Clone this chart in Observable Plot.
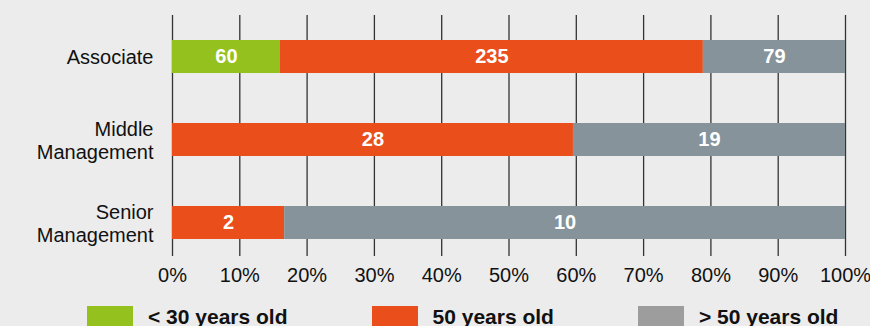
<!DOCTYPE html>
<html>
<head>
<meta charset="utf-8">
<script src="https://cdn.jsdelivr.net/npm/d3@7"></script>
<script src="https://cdn.jsdelivr.net/npm/@observablehq/plot@0.6"></script>
<style>
  html, body { margin: 0; padding: 0; background: #ececec; }
  body { width: 870px; height: 326px; overflow: hidden; font-family: "Liberation Sans", Arial, Helvetica, sans-serif; }
  #chart svg { display: block; background: #ececec; }
  .legend { display: flex; align-items: flex-start; gap: 84px; padding-left: 87px; margin-top: 10px; }
  .legend .item { display: flex; align-items: flex-start; gap: 15px; }
  .legend .sw { width: 46px; height: 22px; }
  .legend .lab { font-weight: bold; font-size: 21px; line-height: 22px; color: #111; }
</style>
</head>
<body>
<div id="chart"></div>
<div class="legend" id="legend"></div>
<script>
// Staff levels and headcount per age group
const levels = ["Associate", "Middle Management", "Senior Management"];
const levelLabels = ["Associate", "Middle\nManagement", "Senior\nManagement"];
const ageGroups = ["< 30 years old", "50 years old", "> 50 years old"];
const under30 = [60, 0, 0];
const age50 = [235, 28, 2];
const over50 = [79, 19, 10];
const xTicks = [0, 0.1, 0.2, 0.3, 0.4, 0.5, 0.6, 0.7, 0.8, 0.9, 1];

const barColors = ["#95c11f", "#e94e1b", "#86939a"];
const legendColors = ["#95c11f", "#e94e1b", "#9d9d9d"];

// long table: one row per (level, age group), skipping empty groups
const series = [under30, age50, over50];
const rows = [];
levels.forEach((level, i) => {
  ageGroups.forEach((age, j) => {
    const v = series[j][i];
    if (v > 0) rows.push({level, age, value: v});
  });
});

const labelOf = new Map(levels.map((l, i) => [l, levelLabels[i]]));

const chart = Plot.plot({
  width: 870,
  height: 296,
  marginLeft: 172,
  marginRight: 25,
  marginTop: 15,
  marginBottom: 40,
  style: {fontFamily: "'Liberation Sans', Arial, Helvetica, sans-serif", fontSize: "20px", color: "#111", background: "#ececec"},
  x: {domain: [0, 1], axis: null},
  y: {domain: levels, paddingInner: 0.6, paddingOuter: 0.3, insetBottom: -9, axis: null},
  color: {domain: ageGroups, range: barColors},
  marks: [
    Plot.ruleX(xTicks, {stroke: "#333", strokeWidth: 1.3}),
    Plot.barX(rows, Plot.stackX({offset: "normalize", order: ageGroups}, {x: "value", y: "level", fill: "age", z: "age"})),
    Plot.text(rows, Plot.stackX({offset: "normalize", order: ageGroups}, {
      x: "value", y: "level", z: "age", text: d => String(d.value),
      fill: "white", fontWeight: "bold", fontSize: 20
    })),
    Plot.axisX({ticks: xTicks, tickFormat: d3.format(".0%"), tickSize: 0, tickPadding: 11, fontSize: 20, fill: "#111", label: null}),
    Plot.axisY({tickFormat: d => labelOf.get(d), tickSize: 0, tickPadding: 19, fontSize: 20, lineHeight: 1.15, fill: "#111", label: null})
  ]
});
document.getElementById("chart").append(chart);

// legend below the plot
const legend = document.getElementById("legend");
ageGroups.forEach((g, i) => {
  const item = document.createElement("div");
  item.className = "item";
  const sw = document.createElement("div");
  sw.className = "sw";
  sw.style.background = legendColors[i];
  const lab = document.createElement("div");
  lab.className = "lab";
  lab.textContent = g;
  item.append(sw, lab);
  legend.append(item);
});
</script>
</body>
</html>
